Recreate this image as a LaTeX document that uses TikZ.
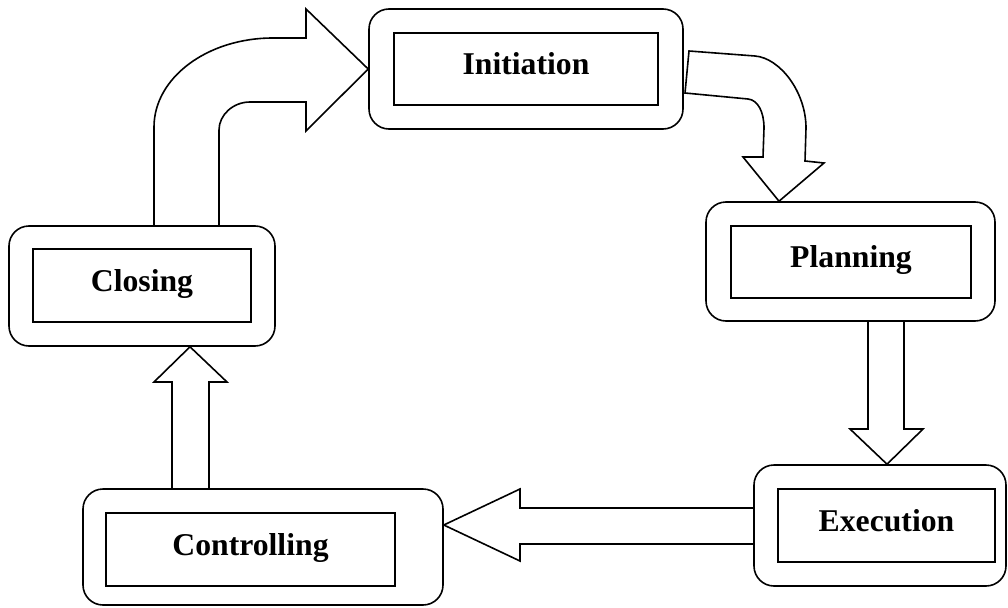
\documentclass[tikz,border=0pt]{standalone}
\usepackage{fontspec}
\setmainfont{Liberation Serif}
\usepackage{tikz}

\begin{document}
\begin{tikzpicture}[
  x=1pt, y=-1pt,
  line width=1.6pt,
  outer/.style={draw, rounded corners=20pt, inner sep=0pt},
  inner/.style={draw, inner sep=0pt, font=\fontsize{31.7}{38}\selectfont\bfseries,
                text height=22pt, text depth=11pt},
  blk/.style={draw, line join=miter}
]
\useasboundingbox (0,0) rectangle (1008,607);
% ---- stages ----
\node[outer, minimum width=314pt, minimum height=120pt] (init) at (526,69) {};
\node[inner, minimum width=264pt, minimum height=72pt] (initin) at (526,69) {Initiation};
\node[outer, minimum width=289pt, minimum height=119pt] (plan) at (850.5,261.5) {};
\node[inner, minimum width=240pt, minimum height=72pt] (planin) at (851,262) {Planning};
\node[outer, minimum width=252pt, minimum height=121pt] (exec) at (880,525.5) {};
\node[inner, minimum width=217pt, minimum height=73pt] (execin) at (886.5,525.5) {Execution};
\node[outer, minimum width=360pt, minimum height=116pt] (ctrl) at (263,547) {};
\node[inner, minimum width=289pt, minimum height=73pt] (ctrlin) at (250.5,549.5) {Controlling};
\node[outer, minimum width=266pt, minimum height=120pt] (clos) at (142,286) {};
\node[inner, minimum width=218pt, minimum height=73pt] (closin) at (142,285.5) {Closing};
% ---- block arrows ----
% initiation -> planning (bent)
\draw[blk] (689,51) -- (755,56) .. controls (780,58) and (806,92) .. (806,128)
  -- (805,161) -- (824,163) -- (plan.north -| 779,0) -- (743,157) -- (763,157)
  -- (764,128) .. controls (764,112) and (758,100) .. (748,99) -- (685,93) -- cycle;
% planning -> execution
\draw[blk] (plan.south -| 868,0) -- (868,429) -- (850,429) -- (exec.north -| 887,0)
  -- (923,429) -- (904,429) -- (plan.south -| 904,0);
% execution -> controlling
\draw[blk] (exec.west |- 0,508) -- (520,508) -- (520,489) -- (ctrl.east |- 0,525)
  -- (520,561) -- (520,544) -- (exec.west |- 0,544);
% controlling -> closing
\draw[blk] (ctrl.north -| 172,0) -- (172,382) -- (154,382) -- (clos.south -| 190,0)
  -- (227,382) -- (209,382) -- (ctrl.north -| 209,0);
% closing -> initiation (bent)
\draw[blk] (clos.north -| 154,0) -- (154,127) .. controls (154,78) and (207,38) .. (273,38)
  -- (306,38) -- (306,9) -- (init.west) -- (306,131) -- (306,102) -- (250,102)
  .. controls (233,102) and (219,115) .. (219,130) -- (clos.north -| 219,0);
\end{tikzpicture}
\end{document}
